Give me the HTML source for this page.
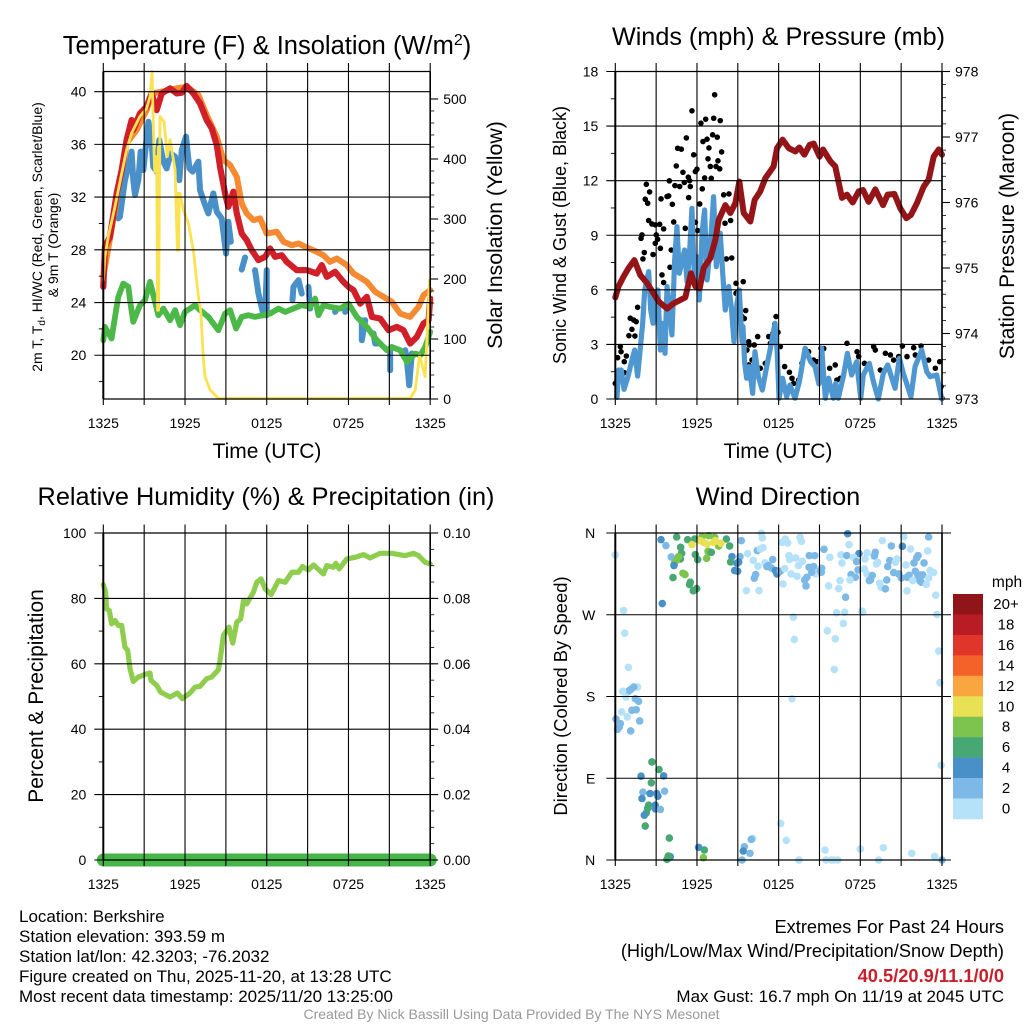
<!DOCTYPE html>
<html lang="en">
<head>
<meta charset="utf-8">
<title>Berkshire Station Meteogram</title>
<style>
  html, body { margin: 0; padding: 0; background: #fff; }
  svg { display: block; font-family: "Liberation Sans", sans-serif; }
  text { fill: #000; }
</style>
</head>
<body>
<svg id="chart" xmlns="http://www.w3.org/2000/svg" width="1024" height="1024" viewBox="0 0 1024 1024">
  <rect x="0" y="0" width="1024" height="1024" fill="#fff"/>

  <g id="panel-temp"></g>
  <g id="panel-wind"></g>
  <g id="panel-rh"></g>
  <g id="panel-dir"></g>
  <g id="legend"></g>

  <text x="267" y="54" font-size="25.5" text-anchor="middle">Temperature (F) &amp; Insolation (W/m<tspan dy="-9" font-size="16">2</tspan><tspan dy="9">)</tspan></text>
  <text x="778.5" y="45" font-size="25.2" text-anchor="middle">Winds (mph) &amp; Pressure (mb)</text>
  <text x="266" y="505" font-size="25.3" text-anchor="middle">Relative Humidity (%) &amp; Precipitation (in)</text>
  <text x="778" y="505" font-size="25.3" text-anchor="middle">Wind Direction</text>

  <text x="267" y="458" font-size="21" text-anchor="middle">Time (UTC)</text>
  <text x="778" y="458" font-size="21" text-anchor="middle">Time (UTC)</text>

  <text transform="translate(42,237) rotate(-90)" font-size="14" text-anchor="middle">2m T, T<tspan dy="3" font-size="10">d</tspan><tspan dy="-3">, HI/WC (Red, Green, Scarlet/Blue)</tspan></text>
  <text transform="translate(58,245) rotate(-90)" font-size="14" text-anchor="middle">&amp; 9m T (Orange)</text>
  <text transform="translate(502,235) rotate(-90)" font-size="21.3" text-anchor="middle">Solar Insolation (Yellow)</text>
  <text transform="translate(566,235) rotate(-90)" font-size="18" text-anchor="middle">Sonic Wind &amp; Gust (Blue, Black)</text>
  <text transform="translate(1014,236) rotate(-90)" font-size="21" text-anchor="middle">Station Pressure (Maroon)</text>
  <text transform="translate(43,696) rotate(-90)" font-size="21" text-anchor="middle">Percent &amp; Precipitation</text>
  <text transform="translate(567,696) rotate(-90)" font-size="18.4" text-anchor="middle">Direction (Colored By Speed)</text>

  <g font-size="17">
    <text x="19" y="922">Location: Berkshire</text>
    <text x="19" y="942">Station elevation: 393.59 m</text>
    <text x="19" y="962">Station lat/lon: 42.3203; -76.2032</text>
    <text x="19" y="982">Figure created on Thu, 2025-11-20, at 13:28 UTC</text>
    <text x="19" y="1002">Most recent data timestamp: 2025/11/20 13:25:00</text>
  </g>
  <g text-anchor="end">
    <text x="1004" y="933" font-size="18.2">Extremes For Past 24 Hours</text>
    <text x="1004" y="957" font-size="18.2">(High/Low/Max Wind/Precipitation/Snow Depth)</text>
    <text x="1004" y="982" font-size="18.3" font-weight="bold" style="fill:#c8202a">40.5/20.9/11.1/0/0</text>
    <text x="1004" y="1002" font-size="17">Max Gust: 16.7 mph On 11/19 at 2045 UTC</text>
  </g>
  <text x="511.5" y="1019" font-size="14" text-anchor="middle" style="fill:#999">Created By Nick Bassill Using Data Provided By The NYS Mesonet</text>
</svg>

<script>
// ---- shared axis labels ----
const timeTickLabels = ['1325','','1925','','0125','','0725','','1325'];
const timeTickHours = [0,3,6,9,12,15,18,21,24];
const directionTickLabels = ['N','E','S','W','N'];
const directionTickValues = [0,90,180,270,360];

const tempTicks = [20,24,28,32,36,40];
const tempMinorTicks = [18,22,26,30,34,38];
const solarTicks = [0,100,200,300,400,500];
const windTicks = [0,3,6,9,12,15,18];
const windMinorTicks = [1.5,4.5,7.5,10.5,13.5,16.5];
const pressureTicks = [973,974,975,976,977,978];
const humidityTicks = [0,20,40,60,80,100];
const humidityMinorTicks = [10,30,50,70,90];
const precipTicks = [0,0.02,0.04,0.06,0.08,0.1];
const precipTickLabels = ['0.00','0.02','0.04','0.06','0.08','0.10'];

// ---- temperature panel ----
const airHours = [0,.12,.49,.98,1.35,1.71,2.08,2.2,2.69,3.18,3.55,3.92,4.29,4.9,5.39,5.76,6.12,6.61,7.1,7.59,7.96,8.33,8.57,8.94,9.18,9.55,9.8,10.16,10.53,10.9,11.39,11.88,12.25,12.61,13.1,13.47,14.2,14.94,15.67,16.04,16.41,17.02,17.63,18,18.37,18.86,19.35,19.72,20.33,20.94,21.55,22.04,22.53,23.02,23.51,23.88,24];
const airTemps = [25.19,28.23,28.99,32.28,34.05,36.33,37.85,37.09,38.35,38.86,39.87,38.6,39.87,40.25,39.87,39.92,40.43,39.87,39.11,37.85,37.22,35.95,34.3,32.28,31.27,32.41,30.76,29.24,28.73,27.97,27.22,27.47,28.1,27.47,27.59,27.09,26.46,26.46,26.2,26.84,25.95,26.33,25.57,25.19,24.94,23.92,24.43,22.91,22.78,21.9,22.15,21.9,20.89,21.39,22.41,22.66,24.3];

const chillHours = [1.1,1.22,1.42,1.59,1.84,2.08,2.2,2.33,2.57,2.74,2.94,3.31,3.55,3.67,3.92,4.11,4.41,4.65,4.95,5.27,5.58,5.76,6.07,6.32,6.56,6.98,7.1,7.47,7.71,8.08,8.33,8.69,9.01,9.18,9.36,9.5, 10.16,10.41,10.5, 11.14,11.39,11.76,11.88,12,12,12.1, 13.89,13.96,14.33,14.57,14.7, 15.06,15.18,15.3, 17.02,17.14,17.3, 17.76,17.8,17.9, 18.98,18.98,19.23,19.4, 19.84,19.96,20.33,20.5, 21.06,21.06,21.2, 22.17,22.29,22.46,22.65];
const chillTemps = [30.38,30.51,32.03,33.29,34.3,35.45,33.29,32.16,33.29,35.45,34.05,37.72,36.08,34.3,33.93,36.33,34.69,34.18,35.32,35.07,33.29,35.57,36.59,34.18,33.93,34.69,32.53,31.4,30.76,32.28,30.89,30.38,27.72,30.13,28.61,null, 26.5,27.42,null, 26.46,24.68,23.04,23.04,26.46,23.04,null, 24.18,25.19,25.7,24.68,null, 25.19,23.54,null, 23.29,23.54,null, 23.29,23.8,null, 22.66,21.14,22.66,null, 21.65,20.89,20.89,null, 20.38,18.86,null, 20.38,19.62,17.72,20.13];

const dewHours = [0,.12,.61,.86,1.1,1.47,1.84,1.96,2.2,2.69,3.06,3.43,3.8,4.04,4.41,4.9,5.27,5.63,6,6.74,7.1,7.71,8.45,8.94,9.31,9.75,10.16,10.65,11.14,11.76,12.25,12.86,13.35,13.96,14.57,15.18,15.55,15.8,16.16,16.65,17.39,18,18.61,19.35,20.08,20.82,21.18,21.8,22.29,22.9,23.27,23.63,24];
const dewTemps = [21.14,22.15,21.27,22.91,24.43,25.44,25.19,24.18,22.53,23.8,24.18,25.57,24.05,23.04,23.54,22.66,23.42,22.28,23.29,23.8,23.42,22.91,21.9,23.16,23.42,22.03,22.91,23.04,22.91,23.04,23.16,23.54,23.29,23.54,23.8,23.67,24.3,23.04,23.8,23.67,23.54,23.92,22.91,22.15,21.14,20.38,20.63,20.38,19.49,20.13,20,20.63,21.77];

const upperHours = [0,1.71,2.45,3.18,3.55,4.29,5.39,6.12,6.98,7.59,8.33,8.82,9.31,9.8,10.16,10.53,11.02,11.51,12,12.74,13.23,13.84,14.33,14.82,15.67,16.16,16.65,17.14,17.88,18.37,18.98,19.35,19.96,20.57,21.18,21.8,22.53,23.14,23.51,24];
const upperTemps = [25.95,36.08,37.09,38.6,39.87,40,40.25,40.38,39.75,38.23,36.58,34.81,34.43,33.54,31.52,30.76,30.25,30.38,29.24,29.37,28.61,28.35,28.48,28.23,27.85,27.59,27.09,27.34,26.84,26.2,25.82,25.57,24.81,24.43,24.05,23.16,22.91,23.67,24.56,24.94];

const solarHours = [0,.12,.37,.86,1.35,1.71,2.08,2.69,3.18,3.43,3.58,3.67,3.77,3.92,3.98,4.04,4.06,4.16,4.46,4.7,4.9,5.27,5.44,5.5,5.53,5.58,5.63,5.88,6.25,6.61,6.98,7.15,7.35,7.47,7.84,8.45,22.53,22.9,23.22,23.63,23.95];
const solarValues = [198,237,271,321,376,415,443,471,484,504,546,454,379,404,148,420,148,471,462,404,432,382,248,343,248,343,343,315,293,248,171,148,65,37,15,1,1,15,73,37,198];

// ---- wind panel ----
const sonicHours = [.12,.24,.44,.64,.93,1.22,1.42,1.64,1.86,2.01,2.16,2.45,2.6,2.77,2.94,3.13,3.31,3.48,3.65,3.8,3.97,4.16,4.36,4.53,4.7,4.9,5.09,5.27,5.44,5.63,5.83,6,6.17,6.37,6.56,6.74,6.98,7.22,7.42,7.71,7.89,8.08,8.33,8.52,8.72,8.94,9.11,9.31,9.38,9.5,9.65,9.85,10.09,10.26,10.51,10.8,11.12,11.49,11.73,11.9,12.03,12.29,12.59,12.83,13.2,13.52,13.94,14.35,14.67,14.96,15.16,15.43,15.67,16.02,16.19,16.38,16.75,17.05,17.36,17.73,18.03,18.22,18.66,18.96,19.32,19.69,20.01,20.55,20.87,21.16,21.72,22.02,22.51,22.88,23.12,23.61,23.98];
const sonicSpeeds = [.09,1.59,1.59,.53,1.23,2.14,2.69,1.26,2.97,4.16,5.99,7,4.89,4.16,5.63,5.99,2.69,4.16,2.51,6.18,5.08,3.52,7.64,9.47,6.91,7.55,8.19,6.45,7.82,10.48,6.36,7.82,5.44,9.11,10.39,6.54,8.37,11.12,7.27,9.11,6.91,4.89,6.18,5.08,3.15,5.26,5.99,3.15,3.98,2,1.14,1.78,.31,2.6,1.23,.49,1.78,3.15,4.16,2.51,.04,1.14,.13,.77,.04,.95,2.79,2.05,1.78,.82,2.79,.04,1.14,.04,.86,.04,1.23,2.51,1.32,2.05,.04,1.32,1.96,.95,0,1.41,1.87,.59,2.24,1.41,.13,1.78,2.69,1.5,1.23,1.32,0];

const gustHours = [0,.17,.37,.42,.66,.66,.81,1,1.44,1.1,1.22,1.35,1.54,1.64,2.03,2.13,1.89,1.96,2.2,2.38,2.28,2.52,2.45,2.69,2.94,3.26,3.55,3.01,3.11,2.94,2.77,3.31,3.36,3.8,3.92,3.97,4.19,4.29,4.11,4.02,3.43,3.55,4.38,4.48,4.73,4.58,4.85,4.97,5.22,5.36,5.07,5.14,5.46,5.51,5.39,5.63,5.76,5.88,6,6.29,6.64,6.44,6.74,6.88,7.15,7.49,7.23,7.71,7.3,7.81,6.81,7.54,6.98,7.4,7.67,6.56,7.05,6.39,6.2,5.88,6.05,7.96,8.35,8.06,8.47,8.16,8.55,8.87,9.4,8.87,9.01,9.11,9.01,9.58,9.31,9.48,9.8,9.67,9.85,10.21,10.46,9.8,10.04,10.65,11.02,11.27,11.39,11.58,11.81,11.71,11.95,12.12,12.44,12.79,12.98,13.1,13.47,13.72,13.96,14.2,14.57,14.82,15.11,15.31,15.75,16.16,16.28,16.53,17.02,17.76,17.88,18.3,18.98,19.1,19.47,19.84,20.21,20.45,20.82,21.09,21.43,21.92,22.04,22.46,23.02,23.51,23.83,23.93,24];
const gustSpeeds = [.86,2.27,2.88,2.6,1.45,2.05,2.36,3.48,3.46,4.44,3.83,4.34,4.25,5.04,7.7,8.05,8.83,9.02,10.98,10.76,11.8,11.38,9.81,9.62,9.57,9.6,9.35,9.02,8.78,8.56,7.94,8.28,11,11.13,11.16,11.99,10.7,9.73,8.19,7.24,6.82,6.4,11.73,12.81,11.68,13.78,13.73,12.46,14.35,12.19,11.9,9.38,12,11.68,11.07,15.84,13.42,12.5,12.63,15.16,15.38,14.15,14.28,13.8,14.52,14.39,15.43,15.3,16.72,13.58,13.2,13.09,12.78,12.78,12.65,12.15,12.13,11.55,10.72,9.71,9.26,11.22,11.27,9.66,9.81,7.7,7.75,6.36,6.45,5.81,5.9,5.32,4.62,4.86,4.53,4.42,3.15,2.69,2.97,2.97,3.43,1.87,2.14,1.69,1.96,3.43,3.06,3.61,4.53,4.11,3.67,2.88,1.78,1.47,1.14,.86,1.04,1.96,2.75,2.6,2.14,2.05,2.79,2.77,1.69,1.87,1.04,1.14,3.06,2.6,2.33,1.96,2.88,2.69,1.59,2.51,2.42,2.14,2.33,2.91,2.33,2.82,2.42,2.91,2.14,1.69,2.05,.68,.04];

const pressureHours = [0,.24,.61,.98,1.4,1.84,2.33,2.82,3.18,3.8,4.29,5.14,5.56,5.88,6.2,6.49,6.98,7.35,7.59,8.08,8.45,8.82,9.11,9.43,9.92,10.24,10.65,11.02,11.63,11.88,12.29,12.74,13.23,13.52,13.89,14.28,14.57,15.01,15.26,15.8,16.16,16.65,17.02,17.44,17.88,18.2,18.61,19.1,19.67,20.01,20.5,20.94,21.38,21.72,22.16,22.65,23.02,23.39,23.76,24];
const pressureValues = [974.55,974.72,974.87,975,975.12,974.89,974.77,974.61,974.49,974.38,974.46,974.55,974.92,974.72,974.69,975,975.15,975.43,975.73,975.96,975.84,975.99,976.32,975.84,975.71,976.04,976.17,976.37,976.55,976.83,976.96,976.83,976.78,976.84,976.73,976.88,976.9,976.7,976.81,976.63,976.55,976.07,976.12,976,976.17,976.19,976.01,976.2,975.96,976.12,976.13,975.91,975.76,975.81,975.99,976.24,976.35,976.7,976.81,976.73];

// ---- humidity panel ----
const humidityHours = [0,.17,.24,.44,.61,.86,1.1,1.35,1.59,1.79,1.96,2.2,2.57,3.06,3.43,3.5,3.92,4.21,4.9,5.44,5.8,6.37,6.74,7.1,7.59,7.96,8.45,8.57,8.82,9.23,9.5,9.8,10.09,10.29,10.53,11.02,11.27,11.58,11.88,12.32,12.86,13.35,13.84,14.33,14.62,15.06,15.43,16.16,16.41,16.9,17.07,17.32,17.88,18.49,19.1,19.59,20.33,21.19,22.16,22.78,23.14,23.63,24];
const humidityValues = [84.23,81.89,76.8,76.3,72.23,73.25,71.72,71.72,65.11,64.09,58.49,54.63,55.95,56.77,57.17,54.93,53.41,51.37,49.85,51.07,49.34,51.07,52.9,53.1,55.44,55.95,58.19,61.04,68.67,71.21,66.33,72.74,73.75,79.35,78.33,81.89,84.94,85.96,82.91,81.18,85.45,84.94,87.99,87.99,89.73,88.71,90.23,87.49,90.03,89.52,90.74,89.01,92.07,92.57,93.39,92.37,93.79,93.79,93.08,93.79,93.08,91.05,90.54];
const precipHours = [0,24];
const precipValues = [0,0];

// ---- wind direction panel ----
const dirHours = [0,.61,.69,.96,1.64,1.35,1.15,.98,.54,.78,1.47,1.71,1.54,1.22,.47,.88,1.79,.05,.37,.29,.17,1.13,
  2.69,3.21,1.89,3.55,2.65,2.03,2.55,3.04,3.13,3.62,1.96,2.45,2.38,2.94,2.94,3.31,2.28,2.13,2.2,3.97,6.12,6.54,4.04,3.89,3.8,6.47,
  12.15,12.56,13.49,15.41,15.48,15.87,16.34,16.04,18,19.35,19.69,21.77,23.46,24,10.09,9.99,9.48,9.4,9.89,9.31,
  23.93,23.85,23.76,12.98,16.09,13.15,15.58,16.16,16.75,13.08,16.26,16.85,18.12,18.17,23.63,23.54,
  3.36,3.72,4.51,5.31,5.83,6.37,6.86,7.3,8.16,8.4,4.8,4.87,4.11,4.78,4.65,4.48,4.33,4.31,5.88,6.05,6.71,6.81,7.05,4.97,5.12,4.24,5.51,5.46,5.98,5.73,3.45,7.59,6.25,5.63,6.49,6.74,7.23,7.35,7.76,
  9.26,8.57,9.16,8.47,9.06,8.94,8.77,8.99,9.72,10.43,10.14,10.73,10.8,10.85,10.65,9.63,10.56,10.48,11,11.24,11.14,11.56,11.46,10.31,10.21,11.76,11.88,12.12,12.32,12.44,12.27,12.49,12.66,13.57,13.67,12.76,12.81,13.25,13.74,13.45,12.91,13.35,14.74,
  14.25,14.65,15.33,15.75,14.23,14.57,14.43,14.08,13.91,14.01,15.16,15.06,15.14,15.67,16.41,16.51,16.65,16.58,17,17.07,17.17,16.92,17.9,17.51,17.73,17.83,17.32,17.63,17.24,
  18.34,18.49,18.3,18.49,19.1,19.03,18.88,18.74,18.66,19.27,19.18,19.62,19.42,19.52,19.84,19.94,20.28,21.09,21.19,23.02,21.68,22.95,22.24,22.14,22.68,21.94,20.16,20.01,20.7,20.57,21.36,20.45,20.82,21.01,21.43,21.58,22.04,22.24,22.41,22.58,22.36,22.48,21.85,23.02,22.85,23.12,23.39,21.43];
const dirDegrees = [335.8,274.7,249.7,212,190.4,190.4,187.9,186,185.7,179.4,177.6,174.7,165.5,164.8,163,157.5,153.1,155.3,150.1,146.5,143.9,142.1,
  108,99.6,92.3,92.6,85,74.7,73.2,73.2,70.3,75.8,67.7,60.4,56.8,60.4,56.4,55.7,52,49.4,37.4,24.2,13.9,11,3.7,4.4,.7,2.6,
  40.3,21.6,0,11,0,0,0,0,12.1,0,13.5,7.3,4,0,23.8,22.7,14.6,9.9,7.3,0,
  104.4,195.2,230,177.6,209.8,242.8,252.3,243.5,260.4,267.3,272.1,272.8,273.9,272.8,270.3,291.5,
  352.7,346.1,355.6,352.7,353.4,355.9,357,355.2,353.4,345.7,344.2,337.6,333.6,331.4,334,329.6,326.6,324.1,336.2,330.7,332.1,339.8,338.7,315.7,314.2,310.9,305.8,303.2,298.8,296.3,282.3,345.7,351.6,347.2,349.7,347.9,349.7,351.6,348.6,
  351.6,334,334,328.1,328.1,326.6,318.6,317.9,337.3,340.6,329.9,359.6,354.5,343.9,342.4,296.6,296.6,323.4,327,324.1,323,330.7,321.5,314.2,310.2,318.6,314.9,317.9,303.9,320.8,349.7,353.4,349,355.2,350.8,335.1,331,332.5,328.8,324.1,314.9,312.4,314.9,
  335.1,335.1,342,333.2,322.3,323,316.8,311.3,308.3,301.7,321.2,318.6,316.8,301.7,298.8,307.6,327,335.8,335.1,359.2,347.2,289.3,337.3,333.2,328.5,319.3,314.2,311.3,308.3,
  331.4,338,320.4,314.9,338.7,334.7,313.1,308.3,307.6,327.7,325.9,351.6,304.7,300.3,298.5,308.3,345.7,345.3,355.9,355.6,342.4,340.2,335.1,332.5,327,327,329.6,323,331.4,327.7,324.8,316.4,314.9,310.5,311.3,313.5,317.9,313.1,313.8,313.8,307.6,305.8,307.6,310.5,303.2,318.6,316.4,296.3];
const dirSpeeds = [1,1,1,1,1,3,3,3,1,1,3,3,3,3,1,1,3,3,3,3,3,3,
  7,7,5,5,7,3,5,5,5,3,5,7,7,5,5,3,7,5,7,7,5,7,5,7,7,9,
  1,1,1,1,1,1,1,1,1,1,1,1,1,3,1,3,3,5,3,3,
  1,1,1,1,1,1,1,1,1,1,1,1,1,1,1,1,
  5,3,7,7,7,9,9,9,7,7,7,7,3,7,9,9,9,5,7,7,9,9,7,9,9,7,7,7,7,7,5,9,11,11,11,11,11,11,11,
  3,5,3,7,5,5,5,5,1,3,1,1,1,1,1,1,1,1,1,3,3,3,3,3,3,5,5,3,1,1,1,1,1,1,1,1,1,1,1,1,1,1,1,
  3,3,3,1,3,3,3,3,3,3,3,3,3,1,1,1,1,1,3,5,1,3,5,1,3,3,3,3,1,
  1,1,1,1,3,3,3,3,3,1,1,1,1,1,3,3,3,5,1,3,1,1,3,3,3,3,3,3,1,1,1,3,3,3,3,3,3,3,3,3,3,3,1,1,1,1,1,1];

// ---- legend ----
const legendLabels = ['20+','18','16','14','12','10','8','6','4','2','0'];
const legendColors = ['#8f1519','#b91c24','#e0352a','#f4622a','#f9a540','#e8e055','#7cc44e','#48a873','#4a90c8','#7db9e6','#b5e2f8'];

// ---- helpers ----
const NS = 'http://www.w3.org/2000/svg';
function linear(d0, d1, r0, r1) {
  return function (v) { return r0 + (v - d0) * (r1 - r0) / (d1 - d0); };
}
function make(parent, tag, attrs, txt) {
  const el = document.createElementNS(NS, tag);
  for (const k in attrs) el.setAttribute(k, attrs[k]);
  if (txt !== undefined) el.textContent = txt;
  parent.appendChild(el);
  return el;
}
function hline(g, y, x0, x1, w, name) {
  const el = make(g, 'line', {x1: x0, x2: x1, y1: y, y2: y, stroke: '#000', 'stroke-width': w});
  
  
}
function vline(g, x, y0, y1, w, name) {
  const el = make(g, 'line', {x1: x, x2: x, y1: y0, y2: y1, stroke: '#000', 'stroke-width': w});
  
  
}
function label(g, x, y, anchor, str, name, size) {
  const el = make(g, 'text', {x: x, y: y, 'font-size': size || 14, 'text-anchor': anchor}, str);
  
  
}
function series(g, hours, values, xs, ys, color, width, name) {
  let d = '';
  let pen = false;
  for (let i = 0; i < hours.length; i++) {
    if (values[i] === null) { pen = false; continue; }
    d += (pen ? 'L' : 'M') + xs(hours[i]).toFixed(2) + ' ' + ys(values[i]).toFixed(2);
    pen = true;
  }
  const el = make(g, 'path', {d: d, fill: 'none', stroke: color, 'stroke-width': width, 'stroke-linecap': 'round', 'stroke-linejoin': 'round'});
  
  
}
function dots(g, hours, values, xs, ys, color, radius, name) {
  for (let i = 0; i < hours.length; i++) {
    const el = make(g, 'circle', {cx: xs(hours[i]).toFixed(2), cy: ys(values[i]).toFixed(2), r: radius, fill: color});
    
    
  }
}
function frame(g, box, xs) {
  timeTickHours.forEach(function (h, i) {
    vline(g, xs(h), box.t - 8.5, box.b + 6, 1.1, 'vertical-gridline');
    label(g, xs(h), box.b + 29, 'middle', timeTickLabels[i], 'x-tick-label');
  });
  vline(g, box.l, box.t, box.b, 2, 'left-axis');
  vline(g, box.r, box.t, box.b, 1.6, 'right-axis');
  hline(g, box.t, box.l, box.r, 1.2, 'top-axis');
  hline(g, box.b, box.l, box.r, 1.2, 'bottom-axis');
}
function leftAxis(g, box, ticks, minors, ys, labels) {
  ticks.forEach(function (t, i) {
    hline(g, ys(t), box.l - 9, box.r, 1.1, 'horizontal-gridline');
    label(g, box.l - 17, ys(t) + 5, 'end', labels ? labels[i] : String(t), 'left-tick-label');
  });
  minors.forEach(function (t) {
    hline(g, ys(t), box.l - 4.5, box.l, 0.9, 'left-minor-tick');
  });
}
function rightAxis(g, box, ticks, step, ys, labels) {
  ticks.forEach(function (t, i) {
    hline(g, ys(t), box.r, box.r + 8, 1.1, 'right-major-tick');
    label(g, box.r + 13, ys(t) + 5, 'start', labels ? labels[i] : String(t), 'right-tick-label');
  });
  const lo = ticks[0];
  const hi = ticks[ticks.length - 1];
  const count = Math.round((hi - lo) / step);
  for (let i = 0; i <= count; i++) {
    hline(g, ys(lo + i * step), box.r, box.r + 4, 0.8, 'right-minor-tick');
  }
}

// ---- panel 1: temperature & insolation ----
(function () {
  const g = document.getElementById('panel-temp');
  const box = {l: 103.3, r: 430.2, t: 71.5, b: 399};
  const xs = linear(0, 24, box.l, box.r);
  const tempY = linear(16.68, 41.53, box.b, box.t);
  const solarY = linear(0, 545.8, box.b, box.t);
  series(g, upperHours, upperTemps, xs, tempY, '#f58a32', 6, 'orange-9m-temperature-line');
  series(g, chillHours, chillTemps, xs, tempY, '#4a90c8', 6, 'blue-wind-chill-line');
  series(g, dewHours, dewTemps, xs, tempY, '#4cb848', 5.8, 'green-dew-point-line');
  series(g, airHours, airTemps, xs, tempY, '#d01f28', 6.2, 'red-temperature-line');
  series(g, solarHours, solarValues, xs, solarY, '#fbe252', 2.8, 'yellow-solar-line');
  frame(g, box, xs);
  leftAxis(g, box, tempTicks, tempMinorTicks, tempY);
  rightAxis(g, box, solarTicks, 20, solarY);
})();

// ---- panel 2: wind & pressure ----
(function () {
  const g = document.getElementById('panel-wind');
  const box = {l: 615.3, r: 942, t: 71.5, b: 399};
  const xs = linear(0, 24, box.l, box.r);
  const windY = linear(0, 18, box.b, box.t);
  const pressY = linear(973, 978, box.b, box.t);
  dots(g, gustHours, gustSpeeds, xs, windY, '#000', 2.8, 'gust-point');
  series(g, sonicHours, sonicSpeeds, xs, windY, '#4f97d1', 5.2, 'blue-sonic-wind-line');
  series(g, pressureHours, pressureValues, xs, pressY, '#941418', 6, 'maroon-pressure-line');
  frame(g, box, xs);
  leftAxis(g, box, windTicks, windMinorTicks, windY);
  rightAxis(g, box, pressureTicks, 0.2, pressY);
})();

// ---- panel 3: humidity & precipitation ----
(function () {
  const g = document.getElementById('panel-rh');
  const box = {l: 103.3, r: 430.2, t: 533, b: 860};
  const xs = linear(0, 24, box.l, box.r);
  const rhY = linear(0, 100, box.b, box.t);
  const precipY = linear(0, 0.1, box.b, box.t);
  series(g, humidityHours, humidityValues, xs, rhY, '#8fcd4e', 5.2, 'green-humidity-line');
  series(g, precipHours, precipValues, xs, precipY, '#46b649', 13, 'precipitation-line');
  frame(g, box, xs);
  leftAxis(g, box, humidityTicks, humidityMinorTicks, rhY);
  rightAxis(g, box, precipTicks, 0.005, precipY, precipTickLabels);
})();

// ---- panel 4: wind direction ----
(function () {
  const g = document.getElementById('panel-dir');
  const box = {l: 615.3, r: 942, t: 533, b: 860};
  const xs = linear(0, 24, box.l, box.r);
  const dirY = linear(0, 360, box.b, box.t);
  const speedColor = function (mph) {
    const bucket = Math.min(10, Math.floor(mph / 2));
    return legendColors[10 - bucket];
  };
  for (let i = 0; i < dirHours.length; i++) {
    const dot = make(g, 'circle', {cx: xs(dirHours[i]).toFixed(2), cy: dirY(dirDegrees[i]).toFixed(2), r: 3.8, fill: speedColor(dirSpeeds[i])});
    
    
  }
  frame(g, box, xs);
  directionTickValues.forEach(function (v, i) {
    hline(g, dirY(v), box.l - 9, box.r + 9, 1.1, 'horizontal-gridline');
    label(g, box.l - 20, dirY(v) + 5, 'end', directionTickLabels[i], 'direction-tick-label');
  });
})();

// ---- legend ----
(function () {
  const g = document.getElementById('legend');
  const top = 594;
  const rowH = 20.45;
  legendColors.forEach(function (c, i) {
    const swatch = make(g, 'rect', {x: 953, y: top + i * rowH, width: 30, height: rowH + 0.3, fill: c});
    
    
    label(g, 1006, top + i * rowH + 15, 'middle', legendLabels[i], 'legend-label', 15);
  });
  label(g, 1007, 587, 'middle', 'mph', 'legend-unit', 15.5);
})();
</script>
</body>
</html>
